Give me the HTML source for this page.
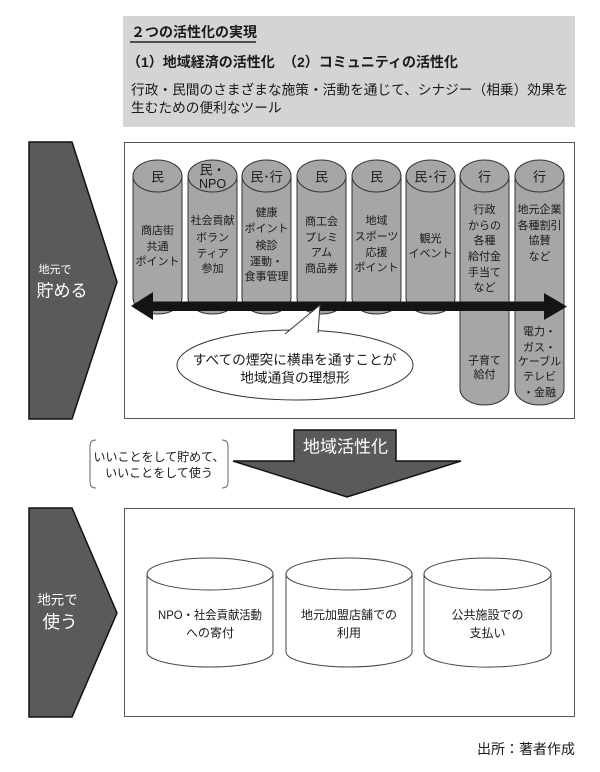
<!DOCTYPE html>
<html><head><meta charset="utf-8"><style>
html,body{margin:0;padding:0;background:#fff;}
svg{display:block;}
text{font-family:"Liberation Sans","Noto Sans CJK JP",sans-serif;fill:#1a1a1a;}
.w{fill:#fff;}
.c{text-anchor:middle;dominant-baseline:central;}
.s{font-size:11px;}
.h{font-size:13px;}
</style></head><body>
<svg width="600" height="772" viewBox="0 0 600 772" xmlns="http://www.w3.org/2000/svg">
<rect x="0" y="0" width="600" height="772" fill="#fff"/>
<!-- top gray box -->
<rect x="123" y="16" width="452" height="111" fill="#d4d4d4"/>
<text x="131" y="32" font-size="14" font-weight="bold" dominant-baseline="central">２つの活性化の実現</text>
<line x1="130" y1="42" x2="256" y2="42" stroke="#222" stroke-width="1.5"/>
<text x="127" y="62" font-size="14" font-weight="bold" dominant-baseline="central">（1）地域経済の活性化</text>
<text x="283" y="62" font-size="14" font-weight="bold" dominant-baseline="central">（2）コミュニティの活性化</text>
<text x="131" y="90" font-size="13.7" dominant-baseline="central">行政・民間のさまざまな施策・活動を通じて、シナジー（相乗）効果を</text>
<text x="131" y="108" font-size="13.7" dominant-baseline="central">生むための便利なツール</text>

<!-- left pentagon 1 -->
<polygon points="29,142 72,142 117,282 72,419 29,419" fill="#5a5a5a" stroke="#111" stroke-width="1.5"/>
<text x="55" y="270" font-size="11" class="c w">地元で</text>
<text x="62" y="291" font-size="17" class="c w">貯める</text>

<!-- main box top -->
<rect x="124.5" y="142.5" width="450" height="276" fill="#fff" stroke="#555" stroke-width="1"/>

<!-- cylinders -->
<g fill="#a6a6a6" stroke="#333" stroke-width="1">
<path d="M133,176 L133,298 A24.5,16 0 0 0 182,298 L182,176 Z"/><ellipse cx="157.5" cy="176" rx="24.5" ry="16"/>
<path d="M188,176 L188,298 A24.5,16 0 0 0 237,298 L237,176 Z"/><ellipse cx="212.5" cy="176" rx="24.5" ry="16"/>
<path d="M242,176 L242,298 A24.5,16 0 0 0 291,298 L291,176 Z"/><ellipse cx="266.5" cy="176" rx="24.5" ry="16"/>
<path d="M297,176 L297,298 A24.5,16 0 0 0 346,298 L346,176 Z"/><ellipse cx="321.5" cy="176" rx="24.5" ry="16"/>
<path d="M352,176 L352,298 A24.5,16 0 0 0 401,298 L401,176 Z"/><ellipse cx="376.5" cy="176" rx="24.5" ry="16"/>
<path d="M406,176 L406,298 A24.5,16 0 0 0 455,298 L455,176 Z"/><ellipse cx="430.5" cy="176" rx="24.5" ry="16"/>
<path d="M460,176 L460,389 A24.5,16 0 0 0 509,389 L509,176 Z"/><ellipse cx="484.5" cy="176" rx="24.5" ry="16"/>
<path d="M515,176 L515,389 A24.5,16 0 0 0 564,389 L564,176 Z"/><ellipse cx="539.5" cy="176" rx="24.5" ry="16"/>
</g>
<!-- column labels -->
<g class="h">
<text x="157.5" y="177" class="c h">民</text>
<text x="212.5" y="170" class="c h">民・</text>
<text x="212.5" y="184" class="c" font-size="12.5">NPO</text>
<text x="266.5" y="177" class="c h">民･行</text>
<text x="321.5" y="177" class="c h">民</text>
<text x="376.5" y="177" class="c h">民</text>
<text x="430.5" y="177" class="c h">民･行</text>
<text x="484.5" y="177" class="c h">行</text>
<text x="539.5" y="177" class="c h">行</text>
</g>
<g>
<text x="157.5" y="231" class="c s">商店街</text>
<text x="157.5" y="247" class="c s">共通</text>
<text x="157.5" y="262" class="c s">ポイント</text>

<text x="212.5" y="221" class="c s">社会貢献</text>
<text x="212.5" y="238" class="c s">ボラン</text>
<text x="212.5" y="254" class="c s">ティア</text>
<text x="212.5" y="269" class="c s">参加</text>

<text x="266.5" y="213" class="c s">健康</text>
<text x="266.5" y="229" class="c s">ポイント</text>
<text x="266.5" y="246" class="c s">検診</text>
<text x="266.5" y="262" class="c s">運動・</text>
<text x="266.5" y="277" class="c s">食事管理</text>

<text x="321.5" y="222" class="c s">商工会</text>
<text x="321.5" y="238" class="c s">プレミ</text>
<text x="321.5" y="253" class="c s">アム</text>
<text x="321.5" y="269" class="c s">商品券</text>

<text x="376.5" y="221" class="c s">地域</text>
<text x="376.5" y="237" class="c s">スポーツ</text>
<text x="376.5" y="253" class="c s">応援</text>
<text x="376.5" y="268" class="c s">ポイント</text>

<text x="430.5" y="239" class="c s">観光</text>
<text x="430.5" y="254" class="c s">イベント</text>

<text x="484.5" y="210" class="c s">行政</text>
<text x="484.5" y="226" class="c s">からの</text>
<text x="484.5" y="241" class="c s">各種</text>
<text x="484.5" y="257" class="c s">給付金</text>
<text x="484.5" y="273" class="c s">手当て</text>
<text x="484.5" y="288" class="c s">など</text>
<text x="484.5" y="361" class="c s">子育て</text>
<text x="484.5" y="375" class="c s">給付</text>

<text x="539.5" y="210" class="c s">地元企業</text>
<text x="539.5" y="226" class="c s">各種割引</text>
<text x="539.5" y="241" class="c s">協賛</text>
<text x="539.5" y="257" class="c s">など</text>
<text x="539.5" y="332" class="c s">電力・</text>
<text x="539.5" y="348" class="c s">ガス・</text>
<text x="539.5" y="362" class="c s">ケーブル</text>
<text x="539.5" y="377" class="c s">テレビ</text>
<text x="539.5" y="393" class="c s">・金融</text>
</g>

<!-- double arrow -->
<polygon points="131,306 153,292 153,301.5 544,301.5 544,293 567,306.5 544,320 544,311 153,311 153,320" fill="#141414"/>

<!-- speech bubble -->
<ellipse cx="295" cy="365" rx="118" ry="35" fill="#fff" stroke="#333" stroke-width="1"/>
<path d="M285,334 L320,305 L318,333" fill="#fff" stroke="#333" stroke-width="1"/>
<text x="294.5" y="360" font-size="13.7" class="c">すべての煙突に横串を通すことが</text>
<text x="295" y="378" font-size="13.7" class="c">地域通貨の理想形</text>

<!-- bracket note -->
<path d="M96,440 Q90,440 90,446 L90,482 Q90,488 96,488" fill="none" stroke="#666" stroke-width="1"/>
<path d="M222,440 Q228,440 228,446 L228,482 Q228,488 222,488" fill="none" stroke="#666" stroke-width="1"/>
<text x="159" y="457" font-size="12" class="c">いいことをして貯めて、</text>
<text x="159" y="473" font-size="12" class="c">いいことをして使う</text>

<!-- big down arrow -->
<polygon points="294,430 396,430 396,461 461,461 347,497 233,461 294,461" fill="#5a5a5a" stroke="#111" stroke-width="1.5"/>
<text x="345.5" y="447" font-size="17" class="c w">地域活性化</text>

<!-- left pentagon 2 -->
<polygon points="29,508 72,508 117,613 72,717 29,717" fill="#5a5a5a" stroke="#111" stroke-width="1.5"/>
<text x="57.5" y="600" font-size="13.5" class="c w">地元で</text>
<text x="60" y="622" font-size="17.5" class="c w">使う</text>

<!-- bottom box -->
<rect x="124.5" y="508.5" width="450" height="208" fill="#fff" stroke="#555" stroke-width="1"/>

<!-- bottom cylinders -->
<g fill="#fff" stroke="#444" stroke-width="1">
<path d="M147,574 L147,652 A63,15 0 0 0 273,652 L273,574 Z"/><ellipse cx="210" cy="574" rx="63" ry="16"/>
<path d="M286,574 L286,652 A63,15 0 0 0 412,652 L412,574 Z"/><ellipse cx="349" cy="574" rx="63" ry="16"/>
<path d="M424,574 L424,652 A63,15 0 0 0 551,652 L551,574 Z"/><ellipse cx="487.5" cy="574" rx="63.5" ry="16"/>
</g>
<text x="210" y="615" font-size="12" class="c" textLength="104" lengthAdjust="spacingAndGlyphs">NPO・社会貢献活動</text>
<text x="210" y="633" font-size="12" class="c">への寄付</text>
<text x="349" y="615" font-size="12" class="c">地元加盟店舗での</text>
<text x="349" y="633" font-size="12" class="c">利用</text>
<text x="487.5" y="615" font-size="12" class="c">公共施設での</text>
<text x="487.5" y="633" font-size="12" class="c">支払い</text>

<!-- source -->
<text x="575" y="749" font-size="14" text-anchor="end" dominant-baseline="central">出所：著者作成</text>
</svg>
</body></html>
